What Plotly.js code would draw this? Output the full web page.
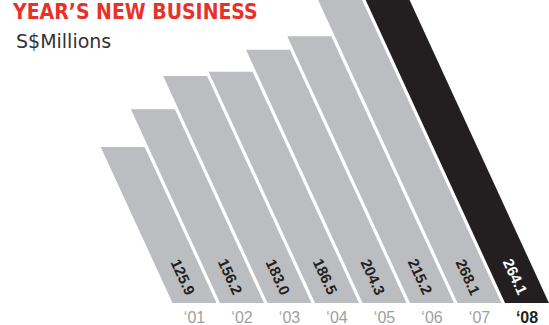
<!DOCTYPE html>
<html>
<head>
<meta charset="utf-8">
<script src="https://cdn.plot.ly/plotly-3.0.1.min.js"></script>
<style>html,body{margin:0;padding:0;background:#fff;}#chart{width:549px;height:325px;}</style>
</head>
<body>
<div id="chart"></div>
<script>
// ---- data ----
var years = ['\u201801', '\u201802', '\u201803', '\u201804', '\u201805', '\u201806', '\u201807', '\u201808'];
var values = [125.9, 156.2, 183.0, 186.5, 204.3, 215.2, 268.1, 264.1];
var valueLabels = ['125.9', '156.2', '183.0', '186.5', '204.3', '215.2', '268.1', '264.1'];
var highlightIndex = 7;

// ---- style ----
var W = 549, H = 325;
var marginB = 22;
var pxPerCat = 47.5;      // horizontal spacing of bars in px
var firstCatPx = 194.5;   // px position of first bar's base centre
var pxPerUnit = 1.24;     // vertical px per S$M
var slantPx = 0.46;       // horizontal px shift per vertical px (bars lean left going up)
var barWidth = 0.925;     // in category units
var grey = '#bcbdc0', dark = '#231f20';

var plotH = H - marginB;
var xRange = [-firstCatPx / pxPerCat, (W - firstCatPx) / pxPerCat];
var yRange = [0, plotH / pxPerUnit];
// slant in data units: category shift per value unit
var slant = slantPx * pxPerUnit / pxPerCat;

var traces = [];
var annotations = [];
values.forEach(function (v, i) {
  var hw = barWidth / 2;
  var s = slant * v;
  traces.push({
    type: 'scatter',
    mode: 'lines',
    x: [i - hw, i + hw, i + hw - s, i - hw - s, i - hw],
    y: [0, 0, v, v, 0],
    fill: 'toself',
    fillcolor: i === highlightIndex ? dark : grey,
    line: {width: 0, color: 'rgba(0,0,0,0)'},
    hoverinfo: 'skip',
    showlegend: false
  });
  var ly = 21;
  annotations.push({
    x: i - slant * ly,
    y: ly,
    xref: 'x', yref: 'y',
    text: '<b>' + valueLabels[i] + '</b>',
    showarrow: false,
    textangle: 65,
    xanchor: 'center', yanchor: 'middle',
    font: {family: 'Liberation Sans, Arial, sans-serif', size: 15, color: i === highlightIndex ? '#ffffff' : dark}
  });
});

annotations.push({
  xref: 'paper', yref: 'paper',
  x: 14 / W, y: 1 - 28 / plotH,
  xanchor: 'left', yanchor: 'top',
  text: 'S$Millions',
  showarrow: false,
  font: {family: 'DejaVu Sans, sans-serif', size: 19, color: '#333333'}
});

var tickText = years.map(function (y, i) {
  return i === highlightIndex ? '<b><span style="color:' + dark + '">' + y + '</span></b>' : y;
});

var layout = {
  width: W, height: H,
  margin: {l: 0, r: 0, t: 0, b: marginB, pad: 0},
  paper_bgcolor: '#ffffff',
  plot_bgcolor: '#ffffff',
  showlegend: false,
  title: {
    text: '<b>YEAR\u2019S NEW BUSINESS</b>',
    xref: 'container', yref: 'container',
    x: 13 / W, xanchor: 'left',
    y: 1 - 11.5 / H, yanchor: 'middle',
    pad: {t: 0, l: 0, r: 0, b: 0},
    font: {family: 'DejaVu Sans Condensed, sans-serif', size: 21, color: '#e8312a'}
  },
  xaxis: {
    range: xRange,
    tickvals: years.map(function (y, i) { return i; }),
    ticktext: tickText,
    showgrid: false, zeroline: false, showline: false,
    ticks: '', ticklen: 0,
    ticklabelstandoff: 3,
    tickfont: {family: 'Liberation Sans, Arial, sans-serif', size: 16, color: '#a0a0a0'},
    fixedrange: true
  },
  yaxis: {
    range: yRange,
    visible: false,
    showgrid: false, zeroline: false,
    fixedrange: true
  },
  annotations: annotations
};

Plotly.newPlot('chart', traces, layout, {displayModeBar: false, staticPlot: true});
</script>
</body>
</html>
